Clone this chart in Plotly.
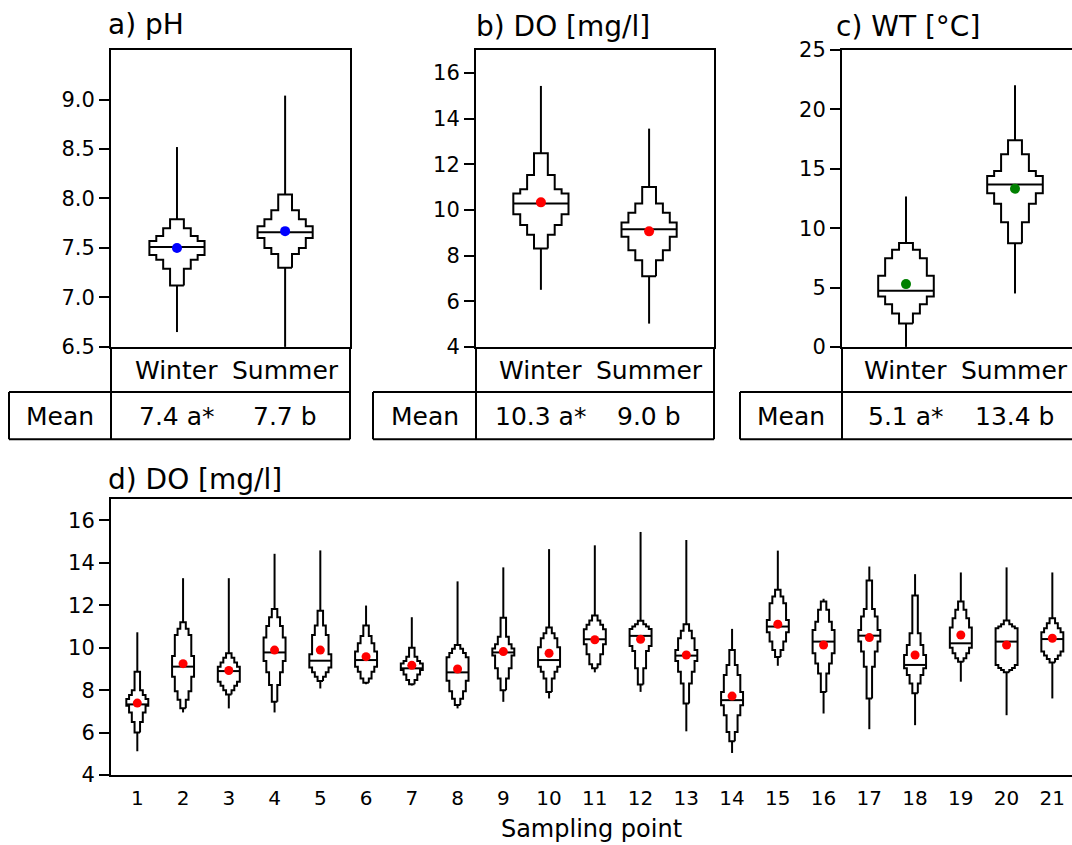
import plotly.graph_objects as go

W, H = 1072, 875
FONT = "DejaVu Sans"
# the photographed window shows page rows as: screen_y = 12 + 0.97 * page_y
SY0, SYK = 12.0, 0.97

# ---------------- data ----------------
seasons = ["Winter", "Summer"]

ph_max = [8.52, 9.04]
ph_min = [6.65, 6.50]
ph_med = [7.51, 7.66]
ph_mean = [7.50, 7.67]
ph_upper = [[7.57, 7.62, 7.70, 7.79], [7.72, 7.79, 7.88, 8.04]]
ph_lower = [[7.43, 7.38, 7.29, 7.12], [7.60, 7.50, 7.44, 7.30]]
ph_table = ["7.4 a*", "7.7 b"]

do_max = [15.43, 13.56]
do_min = [6.50, 5.02]
do_med = [10.28, 9.15]
do_mean = [10.33, 9.06]
do_upper = [[10.72, 10.90, 11.53, 12.48], [9.45, 9.88, 10.28, 11.00]]
do_lower = [[9.81, 9.34, 8.91, 8.31], [8.82, 8.23, 7.80, 7.09]]
do_table = ["10.3 a*", "9.0 b"]

wt_max = [12.67, 22.04]
wt_min = [0.0, 4.50]
wt_med = [4.73, 13.68]
wt_mean = [5.29, 13.32]
wt_upper = [[6.00, 7.46, 8.19, 8.76], [14.39, 14.81, 16.22, 17.40]]
wt_lower = [[4.25, 3.60, 2.82, 1.97], [12.95, 12.05, 10.50, 8.73]]
wt_table = ["5.1 a*", "13.4 b"]

points = list(range(1, 22))
d_max = [10.73, 13.28, 13.28, 14.43, 14.59, 11.99, 11.44, 13.13, 13.79, 14.65, 14.83,
         15.46, 15.08, 10.89, 14.58, 12.31, 13.83, 13.47, 13.55, 13.79, 13.55]
d_min = [5.12, 6.95, 7.14, 6.95, 8.08, 8.28, 8.22, 7.14, 7.45, 7.61, 8.84,
         7.92, 6.06, 5.04, 9.15, 6.90, 6.16, 6.35, 8.40, 6.82, 7.61]
d_med = [7.33, 9.11, 8.90, 9.78, 9.39, 9.42, 9.03, 8.84, 9.78, 9.42, 10.40,
         10.56, 9.63, 7.53, 11.00, 10.29, 10.57, 9.19, 10.21, 10.29, 10.41]
d_mean = [7.39, 9.25, 8.93, 9.89, 9.89, 9.58, 9.17, 9.00, 9.82, 9.74, 10.38,
          10.40, 9.66, 7.72, 11.11, 10.13, 10.48, 9.66, 10.60, 10.13, 10.45]
d_upper = [
    [7.58, 7.77, 8.00, 8.87], [9.61, 10.60, 10.90, 11.20], [9.11, 9.31, 9.53, 9.74],
    [10.48, 11.03, 11.44, 11.83], [9.69, 10.60, 11.05, 11.75], [9.82, 10.21, 10.56, 11.05],
    [9.26, 9.37, 9.58, 10.00], [9.55, 9.75, 9.95, 10.13], [9.97, 10.16, 10.52, 11.42],
    [10.02, 10.45, 10.68, 10.95], [10.87, 11.08, 11.28, 11.52], [10.89, 11.00, 11.11, 11.27],
    [9.90, 10.45, 10.80, 11.11], [7.92, 8.71, 9.19, 9.89], [11.31, 12.10, 12.42, 12.73],
    [10.84, 11.23, 11.79, 12.18], [10.84, 11.47, 11.83, 13.17], [9.66, 10.13, 10.68, 12.46],
    [10.95, 11.39, 11.79, 12.18], [10.92, 11.00, 11.11, 11.28], [10.73, 10.92, 11.16, 11.39]]
d_lower = [
    [7.26, 6.95, 6.50, 6.00], [8.63, 7.95, 7.55, 7.15], [8.40, 8.21, 8.00, 7.80],
    [9.37, 8.84, 8.24, 7.45], [9.07, 8.84, 8.63, 8.43], [9.11, 8.87, 8.55, 8.35],
    [8.95, 8.74, 8.48, 8.28], [8.45, 7.95, 7.60, 7.30], [9.63, 9.03, 8.55, 8.00],
    [9.11, 8.87, 8.55, 7.92], [10.16, 9.69, 9.22, 9.03], [10.08, 9.85, 9.03, 8.27],
    [9.37, 8.87, 8.32, 7.37], [7.29, 6.82, 6.03, 5.59], [10.73, 10.29, 9.89, 9.56],
    [9.74, 9.26, 8.79, 7.92], [10.29, 9.82, 9.11, 7.61], [9.03, 8.71, 8.32, 7.85],
    [10.00, 9.74, 9.50, 9.34], [9.19, 9.05, 8.95, 8.84], [9.82, 9.63, 9.47, 9.31]]

ph_ticks = [6.5, 7.0, 7.5, 8.0, 8.5, 9.0]
do_ticks = [4, 6, 8, 10, 12, 14, 16]
wt_ticks = [0, 5, 10, 15, 20, 25]

# ---------------- helpers ----------------
def envelope(xc, lo, up, hw):
    K = len(hw)
    rx, ry = [], []
    for k in range(K - 1, -1, -1):
        rx += [xc + hw[k], xc + hw[k]]
        ry += [lo[k], lo[k - 1] if k > 0 else up[0]]
    for k in range(1, K):
        rx += [xc + hw[k], xc + hw[k]]
        ry += [up[k - 1], up[k]]
    lx = [2 * xc - v for v in reversed(rx)]
    ly = list(reversed(ry))
    return rx + lx + [rx[0]], ry + ly + [ry[0]]

fig = go.Figure()
LW = 2

def add_boxes(xs, mins, maxs, meds, means, uppers, lowers, width, color, xa, ya, msize):
    wx, wy = [], []
    mx, my = [], []
    for i, xc in enumerate(xs):
        K = len(uppers[i])
        hw = [width / 2 * (K - k) / K for k in range(K)]
        px, py = envelope(xc, lowers[i], uppers[i], hw)
        fig.add_trace(go.Scatter(x=px, y=py, mode="lines", fill="toself", fillcolor="white",
                                 line=dict(color="black", width=LW), xaxis=xa, yaxis=ya,
                                 hoverinfo="skip", showlegend=False))
        wx += [xc, xc, None, xc, xc, None]
        wy += [uppers[i][-1], maxs[i], None, lowers[i][-1], mins[i], None]
        mx += [xc - hw[0], xc + hw[0], None]
        my += [meds[i], meds[i], None]
    fig.add_trace(go.Scatter(x=wx, y=wy, mode="lines", line=dict(color="black", width=LW),
                             xaxis=xa, yaxis=ya, hoverinfo="skip", showlegend=False))
    fig.add_trace(go.Scatter(x=mx, y=my, mode="lines", line=dict(color="black", width=LW),
                             xaxis=xa, yaxis=ya, hoverinfo="skip", showlegend=False))
    fig.add_trace(go.Scatter(x=xs, y=means, mode="markers",
                             marker=dict(color=color, size=msize, line=dict(width=0)),
                             xaxis=xa, yaxis=ya, hoverinfo="skip", showlegend=False))

sx = [1, 2]
add_boxes(sx, ph_min, ph_max, ph_med, ph_mean, ph_upper, ph_lower, 0.51, "#0000ff", "x", "y", 10)
add_boxes(sx, do_min, do_max, do_med, do_mean, do_upper, do_lower, 0.51, "#ff0000", "x2", "y2", 10)
add_boxes(sx, wt_min, wt_max, wt_med, wt_mean, wt_upper, wt_lower, 0.51, "#008000", "x3", "y3", 10)
add_boxes(points, d_min, d_max, d_med, d_mean, d_upper, d_lower, 0.48, "#ff0000", "x4", "y4", 9)

# ---------------- layout (positions given in window pixels) ----------------
def fx(p):
    return min(max(p / W, 0.0), 1.0)

def fy(p):
    return 1 - ((p - SY0) / SYK) / H

def dom_x(a, b):
    return [fx(a), fx(b)]

def dom_y(top, bot):
    return [fy(bot), fy(top)]

tickfont = dict(family=FONT, size=21, color="black")
common_x = dict(showgrid=False, zeroline=False, showline=True, linecolor="black",
                linewidth=LW, fixedrange=True)
common_y = dict(showgrid=False, zeroline=False, showline=True, linecolor="black",
                linewidth=LW, ticks="outside", ticklen=10, tickwidth=LW, tickcolor="black",
                tickfont=tickfont, fixedrange=True)

panels = [
    (111, 350, [0.39, 2.60], [6.5, 9.5], ph_ticks, "%.1f", True),
    (476, 714, [0.40, 2.60], [4, 17], do_ticks, "%d", True),
    (842, 1072, [0.413, 2.523], [0, 25], wt_ticks, "%d", False),
]
layout = {}
for i, (l, r, xr, yr, tv, fmt, mir) in enumerate(panels):
    sfx = "" if i == 0 else str(i + 1)
    layout["xaxis" + sfx] = dict(common_x, domain=dom_x(l, r), range=xr, showticklabels=False,
                                 ticks="", mirror=True, anchor="y" + sfx)
    layout["yaxis" + sfx] = dict(common_y, domain=dom_y(50, 346), range=yr, tickvals=tv,
                                 ticktext=[fmt % v for v in tv], mirror=mir, anchor="x" + sfx)

layout["xaxis4"] = dict(common_x, domain=dom_x(111, 1072), range=[0.425, 21.43],
                        tickvals=points, ticktext=[str(p) for p in points], ticks="",
                        tickfont=dict(family=FONT, size=20, color="black"),
                        ticklabelstandoff=4, mirror=True, anchor="y4",
                        title=dict(text="Sampling point", font=dict(family=FONT, size=24, color="black"),
                                   standoff=11))
layout["yaxis4"] = dict(common_y, domain=dom_y(498, 773), range=[4, 17], tickvals=do_ticks,
                        ticktext=[str(v) for v in do_ticks], mirror=False, anchor="x4")

shapes = []
def pline(x0, y0, x1, y1, color="black"):
    shapes.append(dict(type="line", xref="paper", yref="paper", x0=fx(x0), x1=fx(x1),
                       y0=fy(y0), y1=fy(y1), line=dict(color=color, width=LW)))

annotations = []
def ptext(text, x, y, size, xref="paper", xanchor="center"):
    annotations.append(dict(text=text, x=(fx(x) if xref == "paper" else x), y=fy(y), xref=xref,
                            yref="paper", showarrow=False, xanchor=xanchor, yanchor="middle",
                            font=dict(family=FONT, size=size, color="black")))

tables = [(9, 111, 350, "x", ph_table), (373, 476, 714, "x2", do_table),
          (740, 842, 1072, "x3", wt_table)]
for (tl, dv, tr, xr, vals) in tables:
    pline(dv, 346, dv, 438)
    if tr < 1072:
        pline(tr, 346, tr, 438)
    pline(tl, 391, tr, 391)
    pline(tl, 438, tr, 438)
    pline(tl, 391, tl, 438)
    ptext("Mean", (tl + dv) / 2, 415, 25)
    for j, s in enumerate(seasons):
        ptext(s, j + 1, 370, 25, xref=xr)
        ptext(vals[j], j + 1, 415, 25, xref=xr)

ptext("a) pH", 106, 24, 28, xanchor="left")
ptext("b) DO [mg/l]", 474, 26, 28, xanchor="left")
ptext("c) WT [°C]", 834, 26, 28, xanchor="left")
ptext("d) DO [mg/l]", 106, 478, 28, xanchor="left")

fig.update_layout(width=W, height=H, margin=dict(l=0, r=0, t=0, b=0),
                  paper_bgcolor="white", plot_bgcolor="white", showlegend=False,
                  shapes=shapes, annotations=annotations, **layout)

pin = ("document.body.style.margin='0px';"
       "var d=document.getElementById('{plot_id}');"
       "d.style.position='fixed';d.style.top='0px';d.style.left='0px';")
fig.write_html("out.html", post_script=pin, config={"displayModeBar": False})
